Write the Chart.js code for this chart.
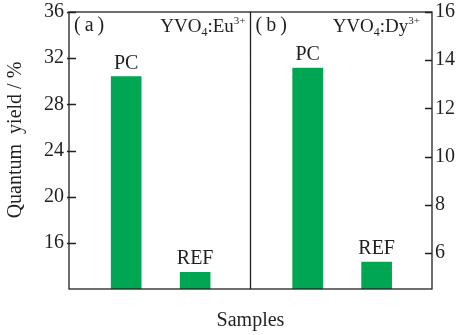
<!DOCTYPE html>
<html>
<head>
<meta charset="utf-8">
<script src="https://cdn.jsdelivr.net/npm/chart.js@4.4.1/dist/chart.umd.min.js"></script>
<style>
  html, body { margin: 0; padding: 0; background: #fff; }
  #wrap { width: 460px; height: 335px; }
</style>
</head>
<body>
<div id="wrap"><canvas id="qyChart" width="460" height="335"></canvas></div>
<script>
// Quantenausbeute der Proben
const samples = ['PC', 'REF'];
const euYield = [30.4, 13.45];   // YVO4:Eu3+, linke Achse
const dyYield = [13.67, 5.62];   // YVO4:Dy3+, rechte Achse
const leftTicks = [16, 20, 24, 28, 32, 36];
const rightTicks = [6, 8, 10, 12, 14, 16];
const panels = [
  { tag: '(\u2009a\u2009)', host: 'YVO', sub: '4', ion: ':Eu', sup: '3+' },
  { tag: '(\u2009b\u2009)', host: 'YVO', sub: '4', ion: ':Dy', sup: '3+' }
];

// Lage der Balken innerhalb eines Feldes (Feldbreite = 1)
const slots = [0.315, 0.695];
const green = '#00a651';
const ink = '#231f20';
const serif = '"Liberation Serif", "DejaVu Serif", serif';

const toPoints = (vals, panel) => vals.map((v, i) => ({ x: panel + slots[i], y: v }));

// Rahmen, Trennlinie, Striche nach innen und Beschriftungen
const decorations = {
  id: 'decorations',
  afterDraw(chart) {
    const ctx = chart.ctx;
    const a = chart.chartArea;
    const yL = chart.scales.yL, yR = chart.scales.yR;
    const mid = chart.scales.x.getPixelForValue(1);
    ctx.save();
    ctx.strokeStyle = ink;
    ctx.lineWidth = 1.3;
    ctx.strokeRect(a.left, a.top, a.right - a.left, a.bottom - a.top);
    ctx.beginPath();
    ctx.moveTo(mid, a.top);
    ctx.lineTo(mid, a.bottom);
    leftTicks.forEach(t => {
      const y = Math.round(yL.getPixelForValue(t)) + 0.5;
      ctx.moveTo(a.left - 2, y);
      ctx.lineTo(a.left + 7, y);
    });
    rightTicks.forEach(t => {
      const y = Math.round(yR.getPixelForValue(t)) + 0.5;
      ctx.moveTo(a.right - 7, y);
      ctx.lineTo(a.right, y);
    });
    ctx.stroke();

    ctx.fillStyle = ink;
    // Probennamen über den Balken
    ctx.font = '20px ' + serif;
    ctx.textAlign = 'center';
    ctx.textBaseline = 'alphabetic';
    chart.data.datasets.forEach((ds, di) => {
      chart.getDatasetMeta(di).data.forEach((bar, i) => {
        ctx.fillText(samples[i], bar.x, bar.y - 8);
      });
    });

    // Feldkennung und Zusammensetzung
    const x = chart.scales.x;
    panels.forEach((p, i) => {
      const left = x.getPixelForValue(i);
      const right = x.getPixelForValue(i + 1);
      ctx.font = '20px ' + serif;
      ctx.textAlign = 'left';
      ctx.fillText(p.tag, left + 5, 31);
      // Formel rechtsbündig zusammensetzen
      const parts = [
        { t: p.host, f: '19px ' + serif, dy: 0 },
        { t: p.sub, f: '12px ' + serif, dy: 4 },
        { t: p.ion, f: '19px ' + serif, dy: 0 },
        { t: p.sup, f: '11px ' + serif, dy: -8 }
      ];
      let w = 0;
      parts.forEach(pt => { ctx.font = pt.f; pt.w = ctx.measureText(pt.t).width; w += pt.w; });
      let cx = right - (i === 0 ? 5 : 12) - w;
      parts.forEach(pt => {
        ctx.font = pt.f;
        ctx.fillText(pt.t, cx, 32 + pt.dy);
        cx += pt.w;
      });
    });

    // Achsentitel
    ctx.font = '20px ' + serif;
    ctx.textAlign = 'center';
    ctx.fillText('Samples', (a.left + a.right) / 2, 326);
    ctx.translate(21, 140);
    ctx.rotate(-Math.PI / 2);
    ctx.fillText('Quantum  yield / %', 0, 0);
    ctx.restore();
  }
};

new Chart(document.getElementById('qyChart'), {
  type: 'bar',
  data: {
    datasets: [
      { data: toPoints(euYield, 0), yAxisID: 'yL', backgroundColor: green, barThickness: 30, grouped: false },
      { data: toPoints(dyYield, 1), yAxisID: 'yR', backgroundColor: green, barThickness: 30, grouped: false }
    ]
  },
  options: {
    responsive: false,
    animation: false,
    layout: { padding: { top: 8, bottom: 46, left: 0, right: 0 } },
    plugins: { legend: { display: false }, tooltip: { enabled: false } },
    scales: {
      x: { type: 'linear', min: 0, max: 2, display: false, offset: false },
      yL: {
        position: 'left', min: 12, max: 36,
        afterBuildTicks: s => { s.ticks = leftTicks.map(v => ({ value: v })); },
        afterFit: s => { s.width = 69; },
        grid: { display: false, drawTicks: false },
        border: { display: false },
        ticks: { padding: 5, color: ink, font: { family: serif, size: 20, lineHeight: 0.7 } }
      },
      yR: {
        position: 'right', min: 4.5, max: 16,
        afterBuildTicks: s => { s.ticks = rightTicks.map(v => ({ value: v })); },
        afterFit: s => { s.width = 28; },
        grid: { display: false, drawTicks: false },
        border: { display: false },
        ticks: { padding: 3, color: ink, font: { family: serif, size: 20, lineHeight: 0.7 } }
      }
    }
  },
  plugins: [decorations]
});
</script>
</body>
</html>
